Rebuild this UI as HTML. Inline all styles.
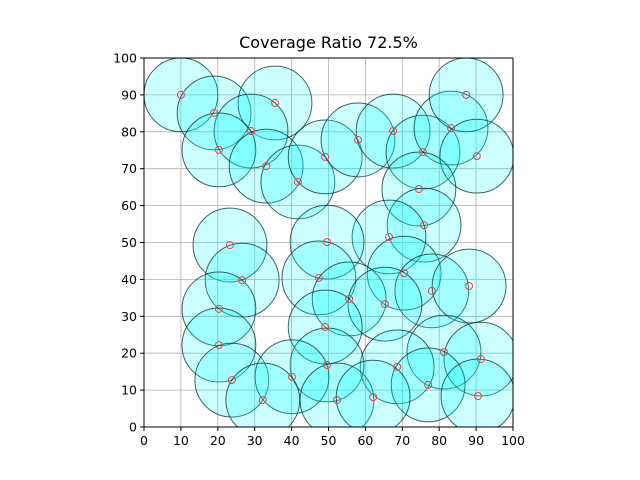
<!DOCTYPE html>
<html><head><meta charset="utf-8"><style>body{margin:0;background:#fff}svg{display:block;font-family:"DejaVu Sans","Liberation Sans",sans-serif}</style></head>
<body>
<svg id="chart" width="640" height="480"></svg>
<script>
const xs=[10.0,19.0,35.5,29.0,20.3,33.1,41.7,49.1,58.0,67.5,75.6,83.2,87.3,90.2,74.5,75.9,66.4,49.6,23.3,26.6,47.4,70.5,78.0,88.1,55.6,65.3,20.3,49.1,20.3,81.3,91.3,68.6,49.6,23.8,40.1,77.0,52.3,32.2,62.1,90.5];
const ys=[90.0,85.1,87.8,80.2,75.1,70.7,66.4,73.2,77.8,80.2,74.5,81.0,90.0,73.4,64.5,54.7,51.5,50.1,49.3,39.8,40.4,41.7,36.9,38.2,34.7,33.3,32.0,27.1,22.2,20.3,18.4,16.3,16.8,12.7,13.6,11.4,7.3,7.3,8.1,8.4];
const radius=10;
const ticks=[0,10,20,30,40,50,60,70,80,90,100];
const title="Coverage Ratio 72.5%";
const NS="http://www.w3.org/2000/svg",svg=document.getElementById('chart');
const L=144,R=513,T=58,B=427;
const sx=v=>L+(R-L)*v/100, sy=v=>B-(B-T)*v/100;
function mk(tag,at,parent){const e=document.createElementNS(NS,tag);for(const k in at)e.setAttribute(k,at[k]);(parent||svg).appendChild(e);return e;}
const defs=mk('clipPath',{id:'clip'});mk('rect',{x:L,y:T,width:R-L,height:B-T},defs);
const grid=mk('g',{});


ticks.forEach(t=>{
 mk('line',{x1:sx(t),x2:sx(t),y1:T,y2:B,stroke:'#b0b0b0','stroke-width':0.8},grid);
 mk('line',{x1:L,x2:R,y1:sy(t),y2:sy(t),stroke:'#b0b0b0','stroke-width':0.8},grid);
});
const cg=mk('g',{'clip-path':'url(#clip)'});


xs.forEach((x,i)=>{
 const c=mk('circle',{cx:sx(x),cy:sy(ys[i]),r:(R-L)*radius/100,fill:'rgba(0,255,255,0.2)',stroke:'rgba(0,50,50,0.75)','stroke-width':1},cg);
 
 
});
xs.forEach((x,i)=>{
 const c=mk('circle',{cx:sx(x),cy:sy(ys[i]),r:3.5,fill:'none',stroke:'#f04040','stroke-width':1},cg);
 
 
});
const fr=mk('rect',{x:L,y:T,width:R-L,height:B-T,fill:'none',stroke:'#000','stroke-width':1});


ticks.forEach(t=>{
 mk('line',{x1:sx(t),x2:sx(t),y1:B,y2:B+4,stroke:'#000'});
 const tx=mk('text',{x:sx(t),y:B+18,'text-anchor':'middle','font-size':12.5});tx.textContent=t;
 
 
 mk('line',{x1:L-4,x2:L,y1:sy(t),y2:sy(t),stroke:'#000'});
 const ty=mk('text',{x:L-7,y:sy(t)+4.5,'text-anchor':'end','font-size':12.5});ty.textContent=t;
 
 
});
const tt=mk('text',{x:(L+R)/2,y:48,'text-anchor':'middle','font-size':16});tt.textContent=title;


</script>
</body></html>
